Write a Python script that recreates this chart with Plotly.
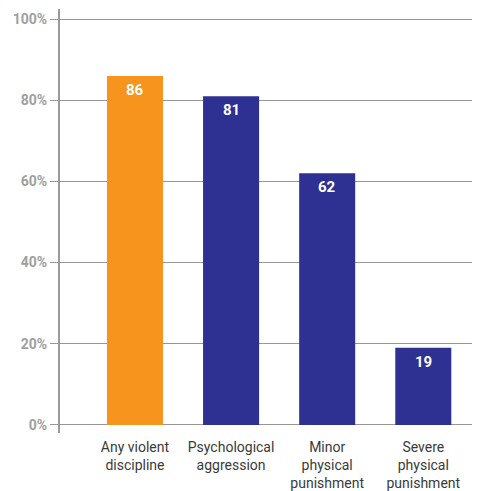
import plotly.graph_objects as go

categories = ["Any violent<br>discipline", "Psychological<br>aggression", "Minor<br>physical<br>punishment", "Severe<br>physical<br>punishment"]
values = [86, 81, 62, 19]
colors = ["#F7941D", "#2E3192", "#2E3192", "#2E3192"]
y_ticks = [0, 20, 40, 60, 80, 100]
y_tick_labels = ["0%", "20%", "40%", "60%", "80%", "100%"]

fig = go.Figure()
fig.add_trace(go.Bar(
    x=list(range(len(categories))), y=values,
    marker=dict(color=colors, line=dict(width=0)),
    width=0.583, hoverinfo="skip",
))

for i, v in enumerate(values):
    fig.add_annotation(x=i, y=v, text="<b>%d</b>" % v, showarrow=False,
                       yanchor="middle", yshift=-14,
                       font=dict(family="Roboto, Liberation Sans", size=15, color="white"))

fig.update_layout(
    width=472, height=483,
    margin=dict(l=52, r=0, t=1, b=58),
    paper_bgcolor="white", plot_bgcolor="white",
    showlegend=False,
    xaxis=dict(
        range=[-0.78, 3.59], automargin=False,
        tickmode="array", tickvals=list(range(len(categories))), ticktext=categories,
        showgrid=False, zeroline=False, showline=False, ticks="",
        ticklabelstandoff=4,
        tickfont=dict(family="Roboto, sans-serif", size=14, color="#3a3a3a"),
    ),
    yaxis=dict(
        range=[-2, 102.5], automargin=False,
        tickmode="array", tickvals=y_ticks, ticktext=["<b>%s</b>" % t for t in y_tick_labels],
        showgrid=True, gridcolor="#969696", gridwidth=1.2,
        zeroline=False,
        showline=True, linecolor="#9a9a9a", linewidth=2,
        ticks="outside", ticklen=8, tickcolor="#969696", tickwidth=1.2,
        tickfont=dict(family="Roboto, sans-serif", size=14, color="#a0a0a0"),
    ),
)

fig.write_html("out.html")
